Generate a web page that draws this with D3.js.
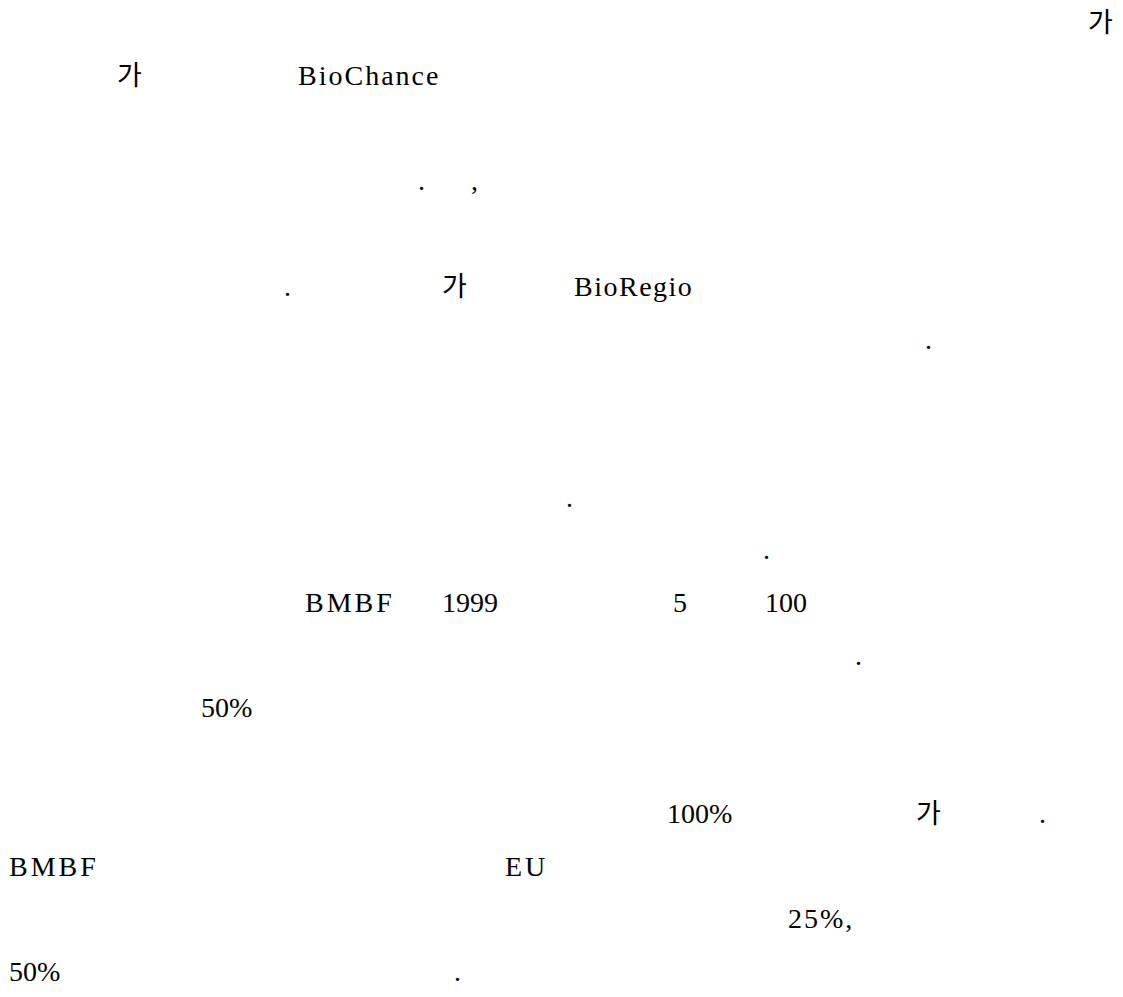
<!DOCTYPE html>
<html>
<head>
<meta charset="utf-8">
<script src="https://cdn.jsdelivr.net/npm/d3@7"></script>
<style>
  html, body { margin: 0; padding: 0; background: #fff; }
  svg { display: block; }
</style>
</head>
<body>
<div id="chart"></div>
<script>
// Visible text fragments of the page, with their line number and column (in text-grid units)
const tokens  = ["가", "가", "BioChance", ".", ",", ".", "가", "BioRegio", ".", ".", ".",
                 "BMBF", "1999", "5", "100", ".", "50%", "100%", "가", ".", "BMBF", "EU", "25%,", "50%", "."];
const lines   = [0, 1, 1, 3, 3, 5, 5, 5, 6, 9, 10,
                 11, 11, 11, 11, 12, 13, 15, 15, 15, 16, 16, 17, 18, 18];
const columns = [1088, 117, 298, 418, 471, 284, 442, 574, 925, 566, 763,
                 305, 442, 673, 765, 855, 201, 667, 916, 1039, 9, 505, 788, 9, 454];

const W = 1123, H = 997;
const svg = d3.select("#chart").append("svg").attr("width", W).attr("height", H);

const y = d3.scaleLinear().domain([0, 18]).range([32.3, 981]);
const x = d3.scaleLinear().domain([0, W]).range([0, W]);

const data = tokens.map((t, i) => ({ t, line: lines[i], col: columns[i] }));
const isKorean = s => /[\uac00-\ud7a3]/.test(s);
const spacing = s => {
  if (s === "BMBF" || s === "EU") return 3;
  if (s === "BioChance") return 2;
  if (s === "BioRegio") return 1.5;
  if (s === "25%,") return 2;
  return 0;
};

svg.selectAll("text").data(data).enter().append("text")
  .attr("x", d => x(d.col))
  .attr("y", d => y(d.line))
  .attr("font-family", d => isKorean(d.t) ? "'Noto Sans CJK KR', sans-serif" : "'Liberation Serif', 'Times New Roman', serif")
  .attr("font-size", d => isKorean(d.t) ? 27 : 28)
  .attr("letter-spacing", d => spacing(d.t))
  .attr("fill", "#000")
  .text(d => d.t);
</script>
</body>
</html>
